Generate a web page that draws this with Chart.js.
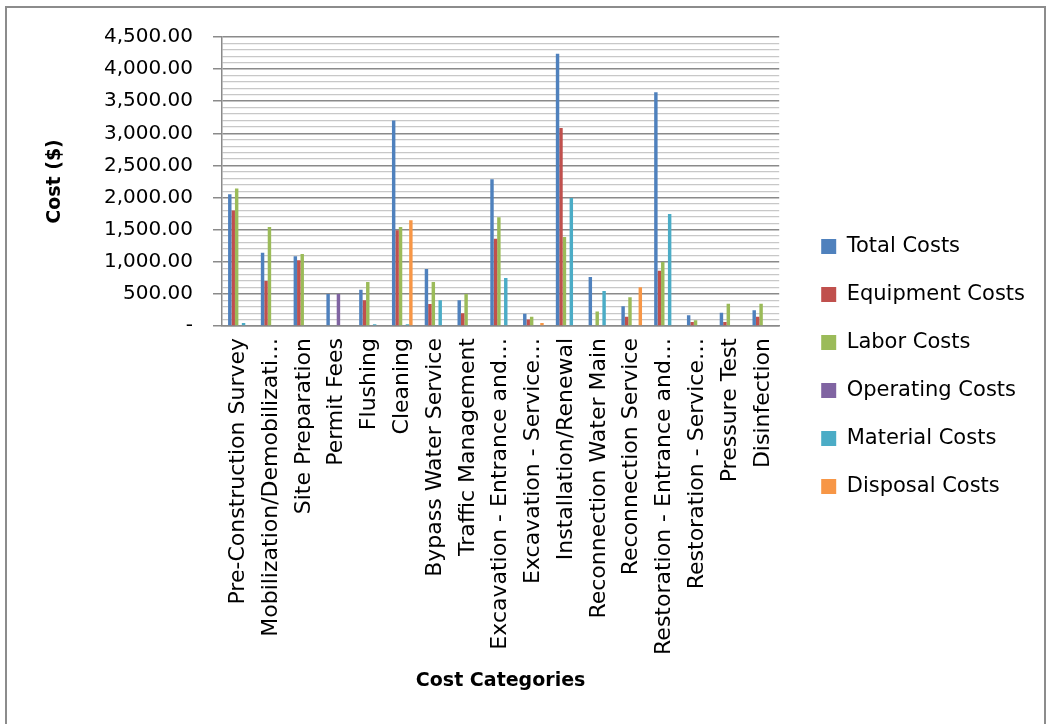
<!DOCTYPE html>
<html>
<head>
<meta charset="utf-8">
<script src="https://cdn.jsdelivr.net/npm/chart.js"></script>
<style>
  html, body { margin: 0; padding: 0; background: #fff; }
  #wrap { width: 1052px; height: 724px; position: relative; }
</style>
</head>
<body>
<div id="wrap"><canvas id="myChart" width="1052" height="724"></canvas></div>
<script>
// categories + series
const categories = [
  'Pre-Construction Survey', 'Mobilization/Demobilizati\u2026', 'Site Preparation', 'Permit Fees',
  'Flushing', 'Cleaning', 'Bypass Water Service', 'Traffic Management',
  'Excavation - Entrance and\u2026', 'Excavation - Service\u2026', 'Installation/Renewal',
  'Reconnection Water Main', 'Reconnection Service', 'Restoration - Entrance and\u2026',
  'Restoration - Service\u2026', 'Pressure Test', 'Disinfection'
];
const totalCosts     = [2050, 1140, 1085, 500, 566, 3200, 888, 400, 2285, 190, 4240, 763, 306, 3640, 166, 205, 244];
const equipmentCosts = [1800, 700, 1023, 0, 400, 1490, 343, 200, 1360, 100, 3084, 0, 145, 862, 62, 62, 145];
const laborCosts     = [2140, 1542, 1121, 0, 685, 1542, 685, 500, 1693, 145, 1386, 226, 446, 997, 88, 345, 345];
const operatingCosts = [0, 0, 0, 500, 0, 0, 0, 0, 0, 0, 0, 0, 0, 0, 0, 0, 0];
const materialCosts  = [45, 0, 0, 0, 26, 26, 400, 0, 748, 0, 1994, 545, 0, 1745, 0, 0, 0];
const disposalCosts  = [0, 0, 0, 0, 0, 1646, 0, 0, 0, 45, 0, 0, 605, 0, 0, 0, 0];

const yMax = 4500;
const yMinorStep = 100;
const yMajorStep = 500;

const FONT = "'DejaVu Sans', sans-serif";

function ds(label, data, color) {
  return { label: label, data: data, backgroundColor: color, borderColor: color, borderWidth: 0 };
}

// grey frame around the whole chart, like the spreadsheet chart box
const frame = {
  id: 'frame',
  beforeDraw(chart) {
    const c = chart.ctx;
    c.save();
    c.fillStyle = '#fff';
    c.fillRect(0, 0, chart.width, chart.height);
    c.strokeStyle = '#8c8c8c';
    c.lineWidth = 2;
    c.strokeRect(6, 7, 1039, chart.height + 10);
    c.restore();
  }
};

const isMajor = v => v % yMajorStep === 0;

const config = {
  type: 'bar',
  data: {
    labels: categories,
    datasets: [
      ds('Total Costs', totalCosts, '#4F81BD'),
      ds('Equipment Costs', equipmentCosts, '#C0504D'),
      ds('Labor Costs', laborCosts, '#9BBB59'),
      ds('Operating Costs', operatingCosts, '#8064A2'),
      ds('Material Costs', materialCosts, '#4BACC6'),
      ds('Disposal Costs', disposalCosts, '#F79646')
    ]
  },
  options: {
    responsive: false,
    animation: false,
    events: [],
    categoryPercentage: 0.63,
    barPercentage: 1.0,
    layout: { padding: { left: 8, top: 37, right: 17, bottom: 28 } },
    plugins: {
      legend: {
        position: 'right',
        align: 'center',
        maxWidth: 300,
        labels: {
          boxWidth: 15, boxHeight: 15, padding: 27,
          color: '#000', font: { family: FONT, size: 21 }
        }
      },
      tooltip: { enabled: false },
      title: { display: false }
    },
    scales: {
      x: {
        grid: { display: false, drawTicks: false },
        border: { display: true, color: '#8a8a8a', width: 1.5 },
        ticks: {
          autoSkip: false, maxRotation: 90, minRotation: 90, padding: 12,
          color: '#000', font: { family: FONT, size: 22 }
        },
        title: {
          display: true, text: 'Cost Categories', color: '#000',
          font: { family: FONT, size: 19, weight: 'bold' },
          padding: { top: 0, bottom: 4 }
        },
        afterFit: s => { s.height = 370; }
      },
      y: {
        min: 0, max: yMax,
        grid: {
          color: c => isMajor(c.tick.value) ? '#8a8a8a' : '#c8c8c8',
          lineWidth: c => isMajor(c.tick.value) ? 1.5 : 1.2,
          tickColor: c => isMajor(c.tick.value) ? '#8a8a8a' : 'rgba(0,0,0,0)',
          tickLength: 9
        },
        border: { display: true, color: '#8a8a8a', width: 1.5 },
        ticks: {
          stepSize: yMinorStep, autoSkip: false, padding: 20,
          color: '#000', font: { family: FONT, size: 20 },
          callback: v => v === 0 ? '-' : (isMajor(v) ? v.toLocaleString('en-US', { minimumFractionDigits: 2, maximumFractionDigits: 2 }) : '')
        },
        title: {
          display: true, text: 'Cost ($)', color: '#000',
          font: { family: FONT, size: 19, weight: 'bold' },
          padding: { top: 36, bottom: 0 }
        },
        afterFit: s => { s.width = 214; }
      },
      // empty spacer between plot and legend
      gap: {
        type: 'linear', position: 'right', display: true,
        grid: { display: false, drawTicks: false },
        border: { display: false },
        ticks: { display: false },
        afterFit: s => { s.width = 15; }
      }
    }
  },
  plugins: [frame]
};

const myChart = new Chart(document.getElementById('myChart'), config);
</script>
</body>
</html>
